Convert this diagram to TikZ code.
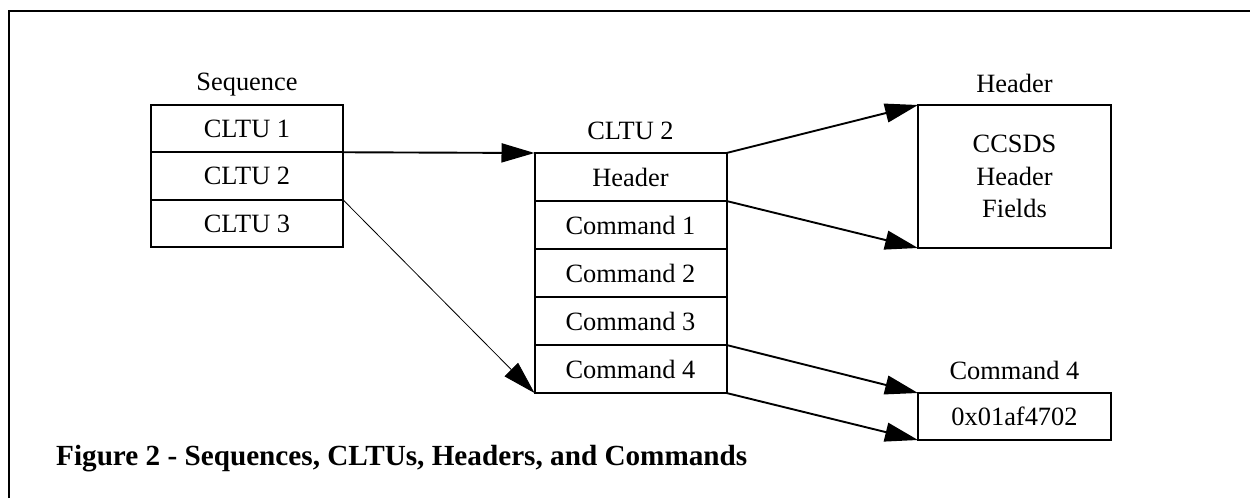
\documentclass[tikz,border=0pt]{standalone}
\usepackage{fontspec}
\setmainfont{Liberation Serif}
\usetikzlibrary{positioning,arrows.meta}
\tikzset{
    rowbox/.style={
        draw,
        line width=2pt,
        minimum width=192pt,
        minimum height=48pt,
        inner sep=0pt,
        outer sep=0pt,
        font=\fontsize{26.4}{32.5}\selectfont
    },
    % titles above the boxes
    lbltext/.style={
        inner sep=0pt,
        font=\fontsize{26.4}{32.5}\selectfont
    },
    bigarrow/.style={
        line width=1.9pt,
        -{Triangle[length=33pt, width=19pt]}
    },
    thinarrow/.style={
        line width=0.8pt,
        -{Triangle[length=33pt, width=19pt]}
    }
}

\begin{document}
\begin{tikzpicture}[x=1pt, y=-1pt]
        \useasboundingbox (0,0) rectangle (1250,498);
        \draw[line width=2.8pt] (9,498) -- (9,11) -- (1250,11);

        % sequence
        \node[rowbox, minimum height=47.5pt] (seq1) at (247,128.5) {CLTU 1};
        \node[rowbox, minimum height=47.5pt, below=0pt of seq1] (seq2) {CLTU 2};
        \node[rowbox, minimum height=47.5pt, below=0pt of seq2] (seq3) {CLTU 3};
        \node[lbltext, above=14pt of seq1, anchor=base] (seqlbl) {Sequence};

        % cltu 2
        \node[rowbox] (hdr) at (630.5,177) {Header};
        \node[rowbox, below=0pt of hdr] (cmd1) {Command 1};
        \node[rowbox, below=0pt of cmd1] (cmd2) {Command 2};
        \node[rowbox, below=0pt of cmd2] (cmd3) {Command 3};
        \node[rowbox, below=0pt of cmd3] (cmd4) {Command 4};
        \node[lbltext, above=14pt of hdr, anchor=base] (cltulbl) {CLTU 2};

        % header and command
        \node[rowbox, minimum width=193pt, minimum height=143pt, align=center] (fields) at (1014.5,176.5) {CCSDS\\Header\\Fields};
        \node[lbltext, above=13pt of fields, anchor=base] (fieldslbl) {Header};
        \node[rowbox, minimum width=193pt, minimum height=47pt] (value) at (1014.5,416.5) {0x01af4702};
        \node[lbltext, above=14pt of value, anchor=base] (valuelbl) {Command 4};

        \node[anchor=base west, inner sep=0pt, font=\fontsize{29.2}{35}\selectfont\bfseries] (caption) at (56,465) {Figure 2 - Sequences, CLTUs, Headers, and Commands};

        \draw[bigarrow] (seq1.south east) -- (hdr.north west);
        \draw[thinarrow] (seq2.south east) -- (cmd4.south west);
        \draw[bigarrow] (hdr.north east) -- (fields.north west);
        \draw[bigarrow] (hdr.south east) -- (fields.south west);
        \draw[bigarrow] (cmd3.south east) -- (value.north west);
        \draw[bigarrow] (cmd4.south east) -- (value.south west);
\end{tikzpicture}
\end{document}
